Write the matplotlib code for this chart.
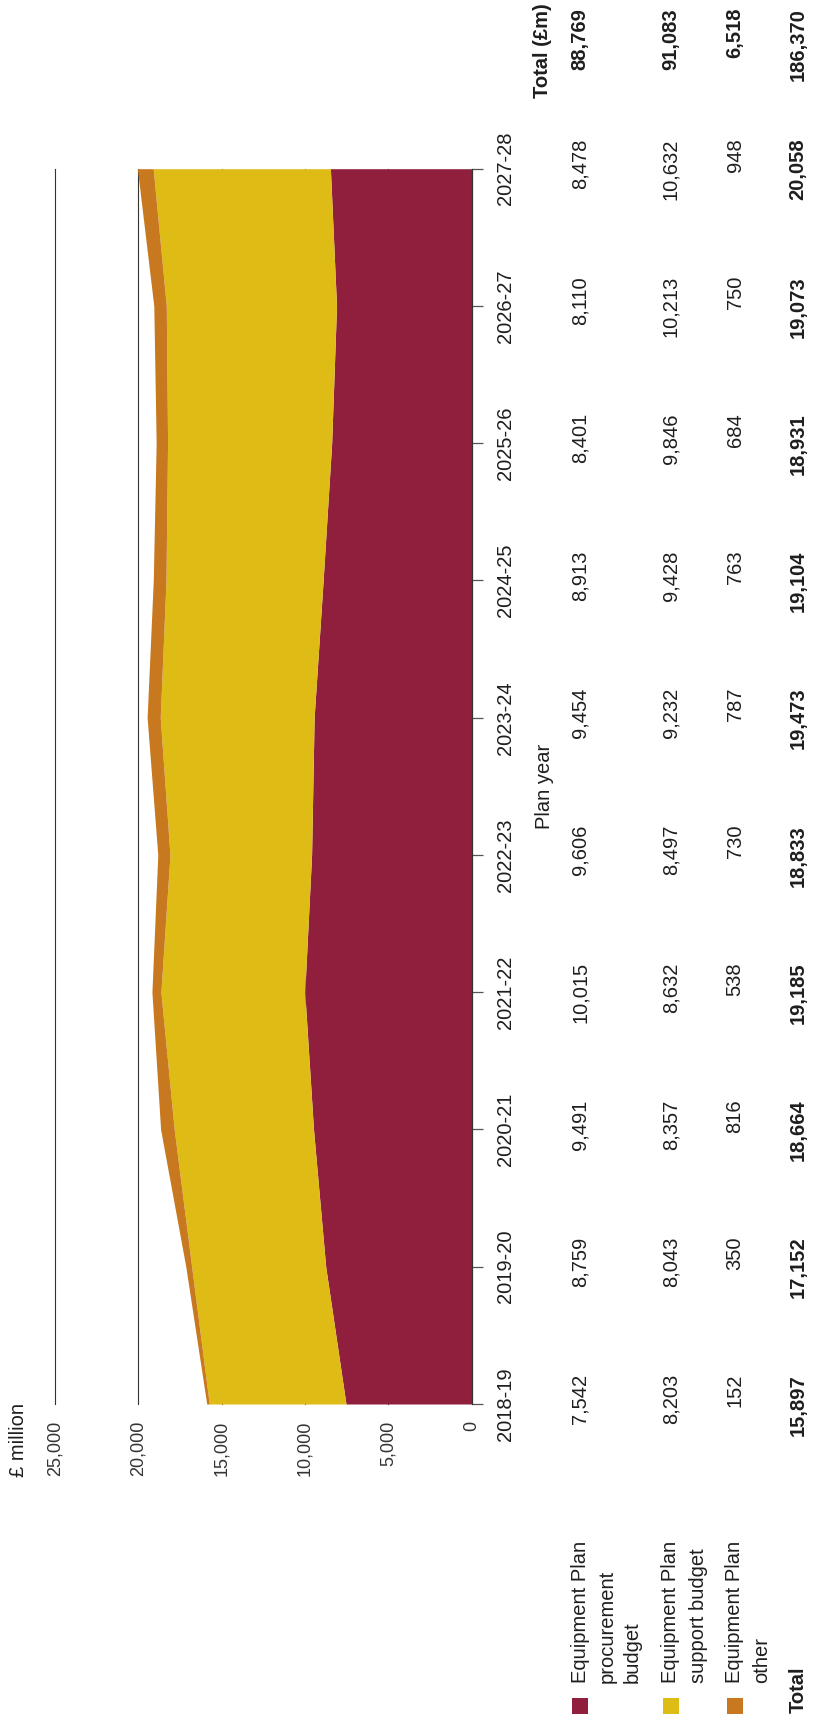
import numpy as np
import matplotlib.pyplot as plt
import matplotlib.transforms as mtransforms
from matplotlib.patches import Rectangle

plt.rcParams['font.family'] = ['Liberation Sans', 'DejaVu Sans']

# data (£ million)
years = ['2018-19', '2019-20', '2020-21', '2021-22', '2022-23',
         '2023-24', '2024-25', '2025-26', '2026-27', '2027-28']
procurement = [7542, 8759, 9491, 10015, 9606, 9454, 8913, 8401, 8110, 8478]
support = [8203, 8043, 8357, 8632, 8497, 9232, 9428, 9846, 10213, 10632]
other = [152, 350, 816, 538, 730, 787, 763, 684, 750, 948]
value_ticks = [0, 5000, 10000, 15000, 20000, 25000]
series_labels = [['Equipment Plan', 'procurement', 'budget'],
                 ['Equipment Plan', 'support budget'],
                 ['Equipment Plan', 'other']]

MAROON = '#8F1F3D'
YELLOW = '#DFBB15'
ORANGE = '#C8781E'
TXT = '#1e1e1e'

W, H = 819, 1719
fig = plt.figure(figsize=(W / 100, H / 100), dpi=100)


def fx(px):
    return px / W


def fy(py):
    return 1 - py / H


# the whole chart is laid out turned by 90 degrees
ax = fig.add_axes([fx(55), fy(1404), fx(471.7) - fx(55), fy(168.7) - fy(1404)])
idx = np.arange(len(years))
proc = np.array(procurement)
sup = np.array(support)
oth = np.array(other)
totals = proc + sup + oth

ax.fill_betweenx(idx, 0, proc, color=MAROON, lw=0, zorder=2)
ax.fill_betweenx(idx, proc, proc + sup, color=YELLOW, lw=0, zorder=2)
ax.fill_betweenx(idx, proc + sup, totals, color=ORANGE, lw=0, zorder=2)

ax.set_xlim(value_ticks[-1], 0)
ax.set_ylim(0, len(years) - 1)
for v in value_ticks[1:]:
    ax.axvline(v, color='#333333', lw=0.8, zorder=1, clip_on=False)

for s in ['top', 'bottom', 'left']:
    ax.spines[s].set_visible(False)
ax.spines['right'].set_color('#333333')
ax.spines['right'].set_linewidth(0.9)
ax.spines['right'].set_zorder(3)
ax.set_xticks(value_ticks)
ax.tick_params(axis='x', length=0, labelbottom=False)
ax.yaxis.tick_right()
ax.set_yticks(idx)
ax.tick_params(axis='y', length=8, width=0.9, color='#555555', labelright=False)

# value axis labels
tr_val = mtransforms.blended_transform_factory(ax.transData, fig.transFigure)
for v in value_ticks:
    fig.text(v, fy(1421), f'{v:,}', transform=tr_val, rotation=90,
             ha='center', va='top', fontsize=13, color='#333333')
fig.text(fx(18), fy(1477), '£ million', rotation=90, ha='center', va='bottom',
         fontsize=14.5, color=TXT)

# year labels and table
tr_year = mtransforms.blended_transform_factory(fig.transFigure, ax.transData)
tr_top = mtransforms.offset_copy(tr_year, fig=fig, y=30, units='dots')
for i, yr in enumerate(years):
    fig.text(fx(505), i, yr, transform=tr_year, rotation=90, ha='center',
             va='center', fontsize=14.5, color=TXT)
fig.text(fx(545), (len(years) - 1) / 2, 'Plan year', transform=tr_year, rotation=90,
         ha='center', va='center', fontsize=14.5, color=TXT)

row_x = [580, 671, 735, 798]
rows = [proc, sup, oth, totals]
for r, (xpos, vals) in enumerate(zip(row_x, rows)):
    bold = r == 3
    for i, val in enumerate(vals):
        fig.text(fx(xpos), i, f'{val:,}', transform=tr_top, rotation=90,
                 ha='center', va='top', fontsize=14.5, color=TXT,
                 fontweight='bold' if bold else 'normal')
    fig.text(fx(xpos), fy(8), f'{int(vals.sum()):,}', rotation=90, ha='center',
             va='top', fontsize=14.5, color=TXT, fontweight='bold')
fig.text(fx(543), fy(3), 'Total (£m)', rotation=90, ha='center', va='top',
         fontsize=14.5, color=TXT, fontweight='bold')

# legend
legend_x = [[580, 607, 632], [671, 698], [735, 762]]
for color, lines, xs in zip([MAROON, YELLOW, ORANGE], series_labels, legend_x):
    fig.add_artist(Rectangle((fx(xs[0] - 8), fy(1714)), 16 / W, 16 / H,
                             transform=fig.transFigure, color=color, lw=0))
    for line, xl in zip(lines, xs):
        fig.text(fx(xl), fy(1683), line, rotation=90, ha='center', va='bottom',
                 fontsize=14.5, color=TXT)
fig.text(fx(798), fy(1713), 'Total', rotation=90, ha='center', va='bottom',
         fontsize=14.5, color=TXT, fontweight='bold')

fig.savefig('out.png', dpi=100, facecolor='white')
